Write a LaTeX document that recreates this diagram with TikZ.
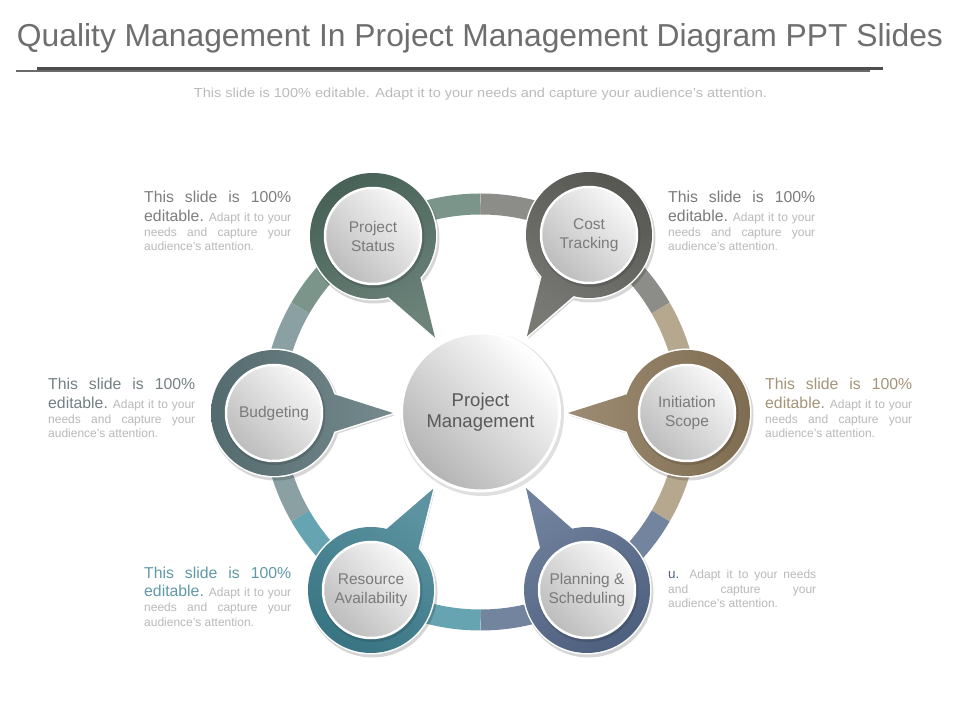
\documentclass[tikz,border=0pt]{standalone}
\usepackage{fontspec}
\usepackage{graphicx}
\setmainfont{Liberation Sans}
\usetikzlibrary{calc}
\definecolor{titlec}{HTML}{6E6E6E}
\definecolor{subc}{HTML}{BBBBBB}
\definecolor{lineA}{HTML}{4D4D4D}
\definecolor{lineB}{HTML}{6A6A6A}
\definecolor{smallgray}{HTML}{B9B9B9}
\definecolor{labgray}{HTML}{7A7A7A}
\definecolor{cengray}{HTML}{595959}
\definecolor{psM}{HTML}{4F6B60}\definecolor{psR}{HTML}{7B958B}
\definecolor{ctM}{HTML}{5F605A}\definecolor{ctR}{HTML}{8C8D88}
\definecolor{isM}{HTML}{8A7658}\definecolor{isR}{HTML}{B6A78F}
\definecolor{plM}{HTML}{55698A}\definecolor{plR}{HTML}{72849E}
\definecolor{raM}{HTML}{3E7F8F}\definecolor{raR}{HTML}{67A4B1}
\definecolor{buM}{HTML}{5B7478}\definecolor{buR}{HTML}{8AA0A3}
\definecolor{tlT}{HTML}{7E7E7E}
\definecolor{trT}{HTML}{7A7A7A}
\definecolor{mlT}{HTML}{748083}
\definecolor{mrT}{HTML}{A49478}
\definecolor{blT}{HTML}{5F99A7}
\definecolor{brT}{HTML}{51627F}
\definecolor{innerL}{HTML}{F7F7F7}
\definecolor{innerD}{HTML}{BDBDBD}
\newcommand\bigf{\fontsize{15.8}{18}\selectfont}
\newcommand\smallf{\fontsize{12}{14}\selectfont}
\newcommand\satpath[3]{(#1) circle (#3) ($(#1)+(#2+160:59pt)$) -- ($(#1)+(#2+180:119pt)$) -- ($(#1)+(#2+200:59pt)$) -- cycle}
\newcommand\tblock[4]{%
  \node[tline, text=#4] (#1a) at (#2,720-#3) {\makebox[147pt][s]{\bigf This slide is 100\%}};
  \node[tline] (#1b) at (#2,720-#3-18.5) {\makebox[147pt][s]{\textcolor{#4}{\bigf editable.} \smallf\textcolor{smallgray}{Adapt it to your}}};
  \node[tline, text=smallgray] (#1c) at (#2,720-#3-33.5) {\makebox[147pt][s]{\smallf needs and capture your}};
  \node[tline, text=smallgray] (#1d) at (#2,720-#3-48) {\smallf audience's attention.};
}
\begin{document}
\begin{tikzpicture}[x=1pt,y=1pt,
  tline/.style={anchor=base west, inner sep=0pt},
  satlabel/.style={align=center, text=labgray, font=\fontsize{15.5}{19}\selectfont, inner sep=0pt},
  ringseg/.style={line width=21pt}]
\useasboundingbox (0,0) rectangle (960,720);
\fill[white] (0,0) rectangle (960,720);

% title
\node[anchor=base, inner sep=0pt, text=titlec] (title) at (480,673)
  {\resizebox{926pt}{23pt}{\fontsize{30}{36}\selectfont Quality Management In Project Management Diagram PPT Slides}};
\coordinate (la1) at (37,651.5); \coordinate (la2) at (883,651.5);
\coordinate (lb1) at (16,648.5); \coordinate (lb2) at (870,648.5);
\draw[lineA, line width=2.5pt] (la1) -- (la2);
\draw[lineB, line width=2pt] (lb1) -- (lb2);
\node[anchor=base, inner sep=0pt, text=subc] (sub) at (480.5,622.5)
  {\resizebox{573pt}{9.5pt}{\fontsize{13}{15}\selectfont This slide is 100\% editable. Adapt it to your needs and capture your audience's attention.}};

\coordinate (C) at (480.5,308);

% ring segments
\foreach \ang/\rc in {120/psR,60/ctR,0/isR,-60/plR,-120/raR,180/buR}{
  \pgfmathsetmacro\sa{\ang-30}\pgfmathsetmacro\ea{\ang+30}
  \draw[ringseg, \rc] ($(C)+(\sa:208pt)$) arc[start angle=\sa, end angle=\ea, radius=208pt];
}

% satellites
\foreach \nm/\px/\py/\ang/\mc/\lab in {ps/373/236/121.4/psM/{Project\\Status}, ct/589/235/58.5/ctM/{Cost\\Tracking}, is/687/413/0/isM/{Initiation\\Scope}, pl/587/590/-59.1/plM/{Planning \&\\Scheduling}, ra/371/590/-121.6/raM/{Resource\\Availability}, bu/274/413/180/buM/{Budgeting}}{
  \pgfmathsetmacro\shang{\ang-90}
  \coordinate (\nm) at (\px,720-\py);
  \path ($(\nm)+(1.5,-2.5)$) coordinate (\nm s);
  \fill[black, opacity=0.16] \satpath{\nm s}{\ang}{65pt};
  \draw[white, line width=3pt, line join=round] \satpath{\nm}{\ang}{63pt};
  \shade[top color=\mc!92!black, bottom color=\mc!84!white, shading angle=\shang] \satpath{\nm}{\ang}{63pt};
  \draw[black, opacity=0.12, line width=3pt] ($(\nm)+(1,-1.5)$) circle (49pt);
  \shade[top color=innerL, bottom color=innerD, shading angle=-45] (\nm) circle (47pt);
  \draw[white, line width=2.5pt] (\nm) circle (48pt);
  \node[satlabel] (\nm l) at (\nm) {\lab};
}

% center
\fill[black, opacity=0.12] ($(C)+(1.5,-2)$) circle (82pt);
\shade[top color=white, bottom color=innerD!95!black, shading angle=-45] (C) circle (78pt);
\draw[white, line width=3pt] (C) circle (79pt);
\node[align=center, text=cengray, font=\fontsize{18.5}{21.5}\selectfont, inner sep=0pt] (pm) at (C) {Project\\Management};

% text blocks
\tblock{tl}{144}{203}{tlT}
\tblock{tr}{668}{203}{trT}
\tblock{ml}{48}{390}{mlT}
\tblock{mr}{765}{390}{mrT}
\tblock{bl}{144}{578}{blT}
\node[tline] (bra) at (668,720-578) {\makebox[148pt][s]{\textcolor{brT}{\fontsize{13.5}{15}\selectfont u.} \smallf\textcolor{smallgray}{Adapt it to your needs}}};
\node[tline, text=smallgray] (brb) at (668,720-593) {\makebox[148pt][s]{\smallf and capture your}};
\node[tline, text=smallgray] (brd) at (668,720-607) {\smallf audience's attention.};
\end{tikzpicture}
\end{document}
